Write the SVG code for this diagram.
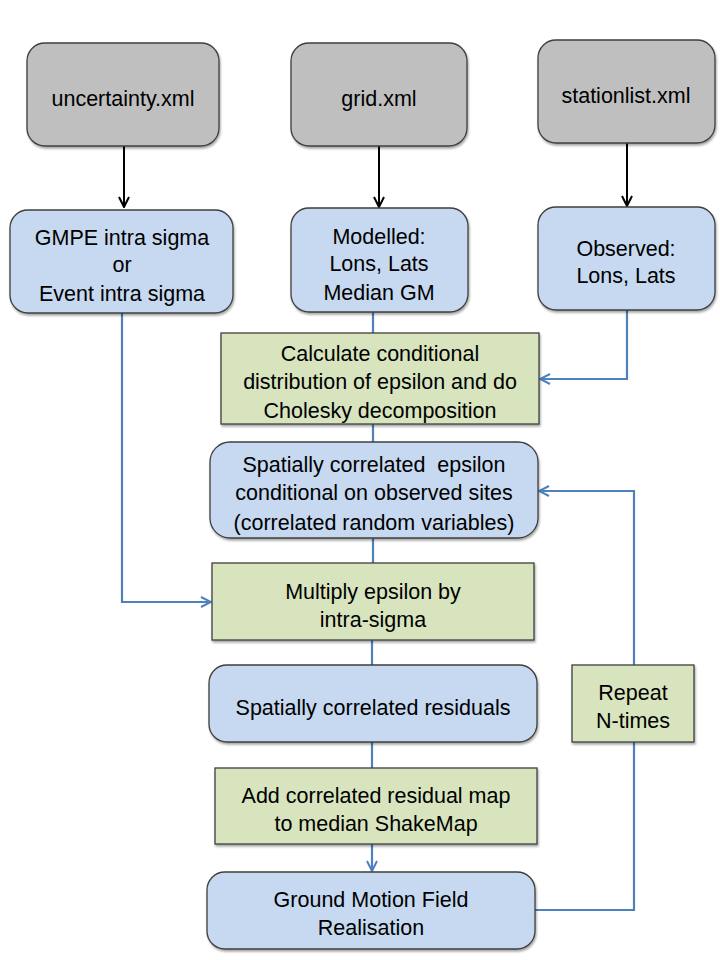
<svg xmlns="http://www.w3.org/2000/svg" width="720" height="960" viewBox="0 0 720 960">
<defs>
<filter id="sh" x="-10%" y="-10%" width="120%" height="130%">
<feDropShadow dx="1" dy="2" stdDeviation="1.2" flood-color="#000" flood-opacity="0.35"/>
</filter>
<marker id="ab" viewBox="0 0 12 12" refX="11" refY="6" markerWidth="12" markerHeight="12" markerUnits="userSpaceOnUse" orient="auto">
<path d="M1,1 L11,6 L1,11" fill="none" stroke="#000" stroke-width="2"/>
</marker>
<marker id="au" viewBox="0 0 12 12" refX="11" refY="6" markerWidth="12" markerHeight="12" markerUnits="userSpaceOnUse" orient="auto">
<path d="M1,1 L11,6 L1,11" fill="none" stroke="#4f81bd" stroke-width="2"/>
</marker>
</defs>
<style>
.g{fill:#bfbfbf;stroke:#3f3f3f;stroke-width:1.3;filter:url(#sh)}
.b{fill:#c6d9f1;stroke:#3f3f3f;stroke-width:1.3;filter:url(#sh)}
.p{fill:#d7e4bd;stroke:#3f3f3f;stroke-width:1.3;filter:url(#sh)}
text{font-family:"Liberation Sans",Arial,sans-serif;font-size:21.5px;fill:#000;text-anchor:middle}
.k{fill:none;stroke:#000;stroke-width:2}
.c{fill:none;stroke:#4f81bd;stroke-width:2.2}
</style>
<g id="connectors">
<path class="k" d="M124,146 V207" marker-end="url(#ab)"/>
<path class="k" d="M379,146 V207" marker-end="url(#ab)"/>
<path class="k" d="M627,143 V206" marker-end="url(#ab)"/>
<path class="c" d="M373,312 V333"/>
<path class="c" d="M627,310 V379 H540" marker-end="url(#au)"/>
<path class="c" d="M373,424 V442"/>
<path class="c" d="M373,538 V563"/>
<path class="c" d="M122,313 V602 H211" marker-end="url(#au)"/>
<path class="c" d="M372,640 V665"/>
<path class="c" d="M372,742 V768"/>
<path class="c" d="M372,844 V871" marker-end="url(#au)"/>
<path class="c" d="M535,910 H634 V742"/>
<path class="c" d="M634,665 V491 H539" marker-end="url(#au)"/>
</g>
<g id="uncertainty">
<rect class="g" x="27" y="43" width="192" height="103" rx="18"/>
<text x="123" y="106">uncertainty.xml</text>
</g>
<g id="grid">
<rect class="g" x="291" y="43" width="176" height="103" rx="18"/>
<text x="379" y="106">grid.xml</text>
</g>
<g id="stationlist">
<rect class="g" x="538" y="40" width="177" height="103" rx="18"/>
<text x="626" y="103">stationlist.xml</text>
</g>
<g id="gmpe">
<rect class="b" x="10" y="210" width="223" height="103" rx="18"/>
<text x="122" y="245">GMPE intra sigma</text>
<text x="122" y="272">or</text>
<text x="122" y="301">Event intra sigma</text>
</g>
<g id="modelled">
<rect class="b" x="291" y="208" width="177" height="104" rx="18"/>
<text x="379" y="244">Modelled:</text>
<text x="379" y="271">Lons, Lats</text>
<text x="379" y="300">Median GM</text>
</g>
<g id="observed">
<rect class="b" x="538" y="207" width="177" height="103" rx="18"/>
<text x="626" y="256">Observed:</text>
<text x="626" y="283">Lons, Lats</text>
</g>
<g id="calculate">
<rect class="p" x="221" y="333" width="318" height="91"/>
<text x="380" y="361">Calculate conditional</text>
<text x="380" y="389">distribution of epsilon and do</text>
<text x="380" y="418">Cholesky decomposition</text>
</g>
<g id="spatial-epsilon">
<rect class="b" x="210" y="442" width="328" height="96" rx="20"/>
<text x="374" y="472">Spatially correlated&#160; epsilon</text>
<text x="374" y="500">conditional on observed sites</text>
<text x="374" y="530">(correlated random variables)</text>
</g>
<g id="multiply">
<rect class="p" x="212" y="563" width="322" height="77"/>
<text x="373" y="599">Multiply epsilon by</text>
<text x="373" y="627">intra-sigma</text>
</g>
<g id="residuals">
<rect class="b" x="209" y="665" width="328" height="77" rx="18"/>
<text x="373" y="715">Spatially correlated residuals</text>
</g>
<g id="add">
<rect class="p" x="215" y="768" width="322" height="76"/>
<text x="376" y="803">Add correlated residual map</text>
<text x="376" y="831">to median ShakeMap</text>
</g>
<g id="ground">
<rect class="b" x="207" y="872" width="328" height="77" rx="18"/>
<text x="371" y="907">Ground Motion Field</text>
<text x="371" y="935">Realisation</text>
</g>
<g id="repeat">
<rect class="p" x="572" y="665" width="122" height="77"/>
<text x="633" y="700">Repeat</text>
<text x="633" y="728">N-times</text>
</g>
</svg>
